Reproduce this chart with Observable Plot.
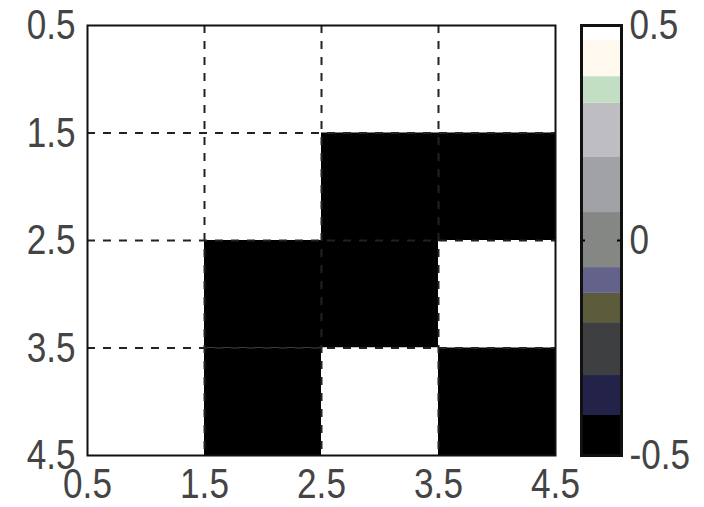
<!DOCTYPE html>
<html>
<head>
<meta charset="utf-8">
<script src="https://cdn.jsdelivr.net/npm/d3@7"></script>
<script src="https://cdn.jsdelivr.net/npm/@observablehq/plot@0.6"></script>
<style>
  html, body { margin: 0; padding: 0; background: #fff; }
  #wrap { position: relative; width: 704px; height: 507px; }
  #wrap svg { position: absolute; left: 0; top: 0; overflow: visible; }
</style>
</head>
<body>
<div id="wrap"></div>
<script>
// Matrix of cell values (rows top to bottom, columns left to right)
const rowIndex = [1, 2, 3, 4];
const colIndex = [1, 2, 3, 4];
const values = [
  [0.5, 0.5, 0.5, 0.5],
  [0.5, 0.5, -0.5, -0.5],
  [0.5, -0.5, -0.5, 0.5],
  [0.5, -0.5, 0.5, -0.5]
];
const gridLines = [1.5, 2.5, 3.5];
const axisTicks = [0.5, 1.5, 2.5, 3.5, 4.5];

// Colormap (bottom to top) with its segment bounds
const cmapColors = ["#000000", "#23234a", "#3e3f40", "#5c5c3c", "#62628a", "#858785", "#a0a2a6", "#bebec2", "#c2dfc4", "#fff8ee", "#ffffff"];
const cmapBounds = [-0.5, -0.407, -0.314, -0.191, -0.123, -0.063, 0.065, 0.193, 0.319, 0.381, 0.465, 0.5];
const cbarTicks = [-0.5, 0, 0.5];

const cells = [];
rowIndex.forEach((r, i) => colIndex.forEach((c, j) => cells.push({row: r, col: c, v: values[i][j]})));

const font = "Liberation Sans, Arial, sans-serif";

const main = Plot.plot({
  width: 704, height: 507,
  marginLeft: 87, marginRight: 149, marginTop: 25, marginBottom: 52,
  style: {fontFamily: font, fontSize: "37px", color: "#444", background: "transparent"},
  x: {domain: [0.5, 4.5], ticks: axisTicks, tickFormat: d => d.toFixed(1), tickSize: 0, tickPadding: 12, label: null},
  y: {domain: [0.5, 4.5], reverse: true, ticks: axisTicks, tickFormat: d => d.toFixed(1), tickSize: 0, tickPadding: 12, label: null},
  color: {type: "threshold", domain: cmapBounds.slice(1, -1), range: cmapColors},
  marks: [
    Plot.rect(cells, {x1: d => d.col - 0.5, x2: d => d.col + 0.5, y1: d => d.row - 0.5, y2: d => d.row + 0.5, fill: "v"}),
    Plot.ruleX(gridLines, {stroke: "#222", strokeWidth: 2, strokeDasharray: "8,8"}),
    Plot.ruleY(gridLines, {stroke: "#222", strokeWidth: 2, strokeDasharray: "8,8"}),
    Plot.frame({stroke: "#111", strokeWidth: 2})
  ]
});

const segs = cmapColors.map((c, i) => ({lo: cmapBounds[i], hi: cmapBounds[i + 1], color: c}));
const cbar = Plot.plot({
  width: 704, height: 507,
  marginLeft: 581, marginRight: 83, marginTop: 25, marginBottom: 52,
  style: {fontFamily: font, fontSize: "37px", color: "#444", background: "transparent"},
  x: {domain: [0, 1], axis: null},
  y: {domain: [-0.5, 0.5], axis: "right", ticks: cbarTicks, tickFormat: d => String(d), tickSize: 0, tickPadding: 8, label: null},
  marks: [
    Plot.rect(segs, {x1: 0, x2: 1, y1: "lo", y2: "hi", fill: "color"}),
    Plot.ruleY([0], {x1: 0, x2: 0.1, stroke: "#000", strokeWidth: 2}),
    Plot.ruleY([0], {x1: 0.9, x2: 1, stroke: "#000", strokeWidth: 2}),
    Plot.frame({stroke: "#111", strokeWidth: 3})
  ]
});

// Tall, narrow tick-label look of the original
[main, cbar].forEach(svg => {
  d3.select(svg).selectAll('g[aria-label$="tick label"] text').each(function () {
    const t = this.getAttribute("transform") || "";
    this.setAttribute("transform", t + " scale(0.95,1.15)");
  });
});

document.getElementById("wrap").append(main, cbar);
</script>
</body>
</html>
